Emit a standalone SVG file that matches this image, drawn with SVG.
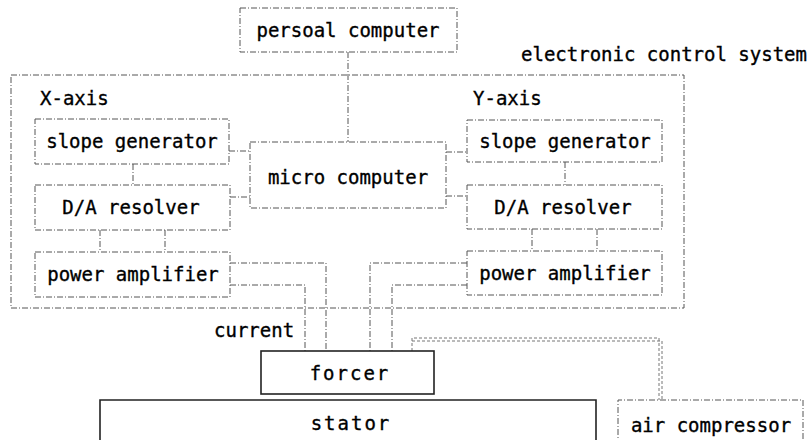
<svg xmlns="http://www.w3.org/2000/svg" width="810" height="440" viewBox="0 0 810 440">
<style>
.t{font-family:"DejaVu Sans Mono","Liberation Mono",monospace;font-size:19px;fill:#000;stroke:#000;stroke-width:0.35;}
.c{text-anchor:middle;}
.d{fill:none;stroke:#555;stroke-width:1;stroke-dasharray:6 2 1 2;}
.s{fill:none;stroke:#222;stroke-width:1.6;}
.a{fill:none;stroke:#777;stroke-width:1;stroke-dasharray:3 2;}
</style>
<rect width="810" height="440" fill="#fff"/>
<g id="system">
<rect class="d" x="11" y="75" width="673" height="233"/>
<text class="t" x="807" y="61" text-anchor="end">electronic control system</text>
<text class="t" x="40" y="105">X-axis</text>
<text class="t" x="473" y="105">Y-axis</text>
</g>
<g id="connectors">
<path class="d" d="M348 52V142"/>
<path class="d" d="M133 164V185"/>
<path class="d" d="M565 162V185"/>
<path class="d" d="M229 151H250M230 197H250M446 152H467M446 196H467"/>
<path class="d" d="M100 230V252M165 230V252M532 229V251M597 229V251"/>
<path class="d" d="M230 263H326V351M230 285H305V351"/>
<path class="d" d="M467 263H370V351M467 285H392V351"/>
<path class="a" d="M412 351V338H659V400M412 341H662V400"/>
</g>
<g id="pc"><rect class="d" x="240" y="8" width="217" height="44"/><text class="t c" x="348" y="37">persoal computer</text></g>
<g id="micro"><rect class="d" x="250" y="142" width="196" height="66"/><text class="t c" x="348" y="184">micro computer</text></g>
<g id="x-slope"><rect class="d" x="35" y="119" width="194" height="45"/><text class="t c" x="132" y="148">slope generator</text></g>
<g id="x-da"><rect class="d" x="35" y="185" width="195" height="45"/><text class="t c" x="131" y="214">D/A resolver</text></g>
<g id="x-amp"><rect class="d" x="35" y="252" width="195" height="45"/><text class="t c" x="133" y="281">power amplifier</text></g>
<g id="y-slope"><rect class="d" x="467" y="120" width="195" height="42"/><text class="t c" x="565" y="148">slope generator</text></g>
<g id="y-da"><rect class="d" x="467" y="185" width="195" height="44"/><text class="t c" x="563" y="214">D/A resolver</text></g>
<g id="y-amp"><rect class="d" x="467" y="251" width="195" height="44"/><text class="t c" x="565" y="280">power amplifier</text></g>
<g id="current-label"><text class="t" x="214" y="337">current</text></g>
<g id="forcer"><rect class="s" x="261" y="351" width="173" height="43"/><text class="t c" x="350" y="380" letter-spacing="2">forcer</text></g>
<g id="stator"><path class="s" d="M100 446V400H596V446"/><text class="t c" x="351" y="430" letter-spacing="2">stator</text></g>
<g id="air"><path class="d" d="M618 446V400H803V446"/><text class="t c" x="711" y="432">air compressor</text></g>
</svg>
